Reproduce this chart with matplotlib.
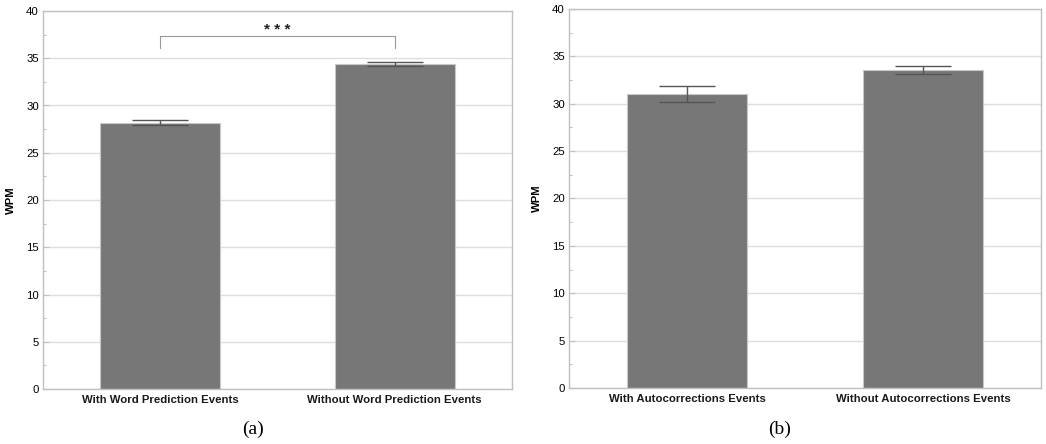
import matplotlib
matplotlib.use("Agg")
import matplotlib.pyplot as plt
import numpy as np

# Data
cats_a = ["With Word Prediction Events", "Without Word Prediction Events"]
wpm_a = [28.2, 34.4]
err_a = [0.3, 0.25]

cats_b = ["With Autocorrections Events", "Without Autocorrections Events"]
wpm_b = [31.0, 33.55]
err_b = [0.85, 0.45]

sig_label = "* * *"
sig_height = 37.4
yticks = [0, 5, 10, 15, 20, 25, 30, 35, 40]

plt.rcParams['font.family'] = ['Liberation Sans', 'DejaVu Sans']

fig = plt.figure(figsize=(10.46, 4.44), dpi=100)
W, H = 1046, 444

def px_axes(l, t, r, b):
    return fig.add_axes([l / W, 1 - b / H, (r - l) / W, (b - t) / H])

ax_a = px_axes(43, 11, 512, 389)
ax_b = px_axes(569, 9, 1041, 388)

bar_color = "#777777"
edge_color = "#c8c8c8"
grid_color = "#dedede"
spine_color = "#c0c0c0"

for ax, cats, vals, errs in [(ax_a, cats_a, wpm_a, err_a), (ax_b, cats_b, wpm_b, err_b)]:
    x = np.arange(len(cats))
    ax.bar(x, vals, width=0.51, color=bar_color, edgecolor=edge_color, linewidth=0.8, zorder=2)
    ax.errorbar(x, vals, yerr=errs, fmt='none', ecolor="#555555", elinewidth=1.0,
                capsize=20.5, capthick=1.0, zorder=3)
    ax.set_xlim(-0.5, 1.5)
    ax.set_ylim(0, 40)
    ax.set_yticks(yticks)
    ax.set_yticks(np.arange(0, 40.1, 2.5), minor=True)
    ax.set_xticks(x)
    ax.set_xticklabels(cats, fontsize=8.2, fontweight='bold', color="#1a1a1a")
    ax.tick_params(axis='x', length=0, pad=4)
    ax.tick_params(axis='y', which='major', direction='in', length=4, width=0.8,
                   color=spine_color, labelsize=8.2, pad=3, labelcolor="#000000")
    ax.tick_params(axis='y', which='minor', direction='in', length=2, width=0.8, color=spine_color)
    ax.yaxis.grid(True, which='major', color=grid_color, linewidth=1.0, zorder=0)
    ax.set_axisbelow(True)
    for s in ax.spines.values():
        s.set_color(spine_color)
        s.set_linewidth(1.0)
    ax.set_ylabel("WPM", fontsize=8.2, fontweight='bold', labelpad=7)

# significance bracket on panel (a)
xb = [0, 0, 1, 1]
yb = [36.1, sig_height, sig_height, 36.1]
ax_a.plot(xb, yb, color="#999999", linewidth=0.8, zorder=4)
ax_a.text(0.5, sig_height + 0.2, sig_label, ha='center', va='baseline', fontsize=11,
          fontweight='bold', color="#222222")

fig.text(253 / W, 1 - 429 / H, "(a)", ha='center', va='center', fontsize=14,
         family=['Liberation Serif', 'DejaVu Serif'])
fig.text(780 / W, 1 - 429 / H, "(b)", ha='center', va='center', fontsize=14,
         family=['Liberation Serif', 'DejaVu Serif'])

fig.savefig("out.png", dpi=100)
